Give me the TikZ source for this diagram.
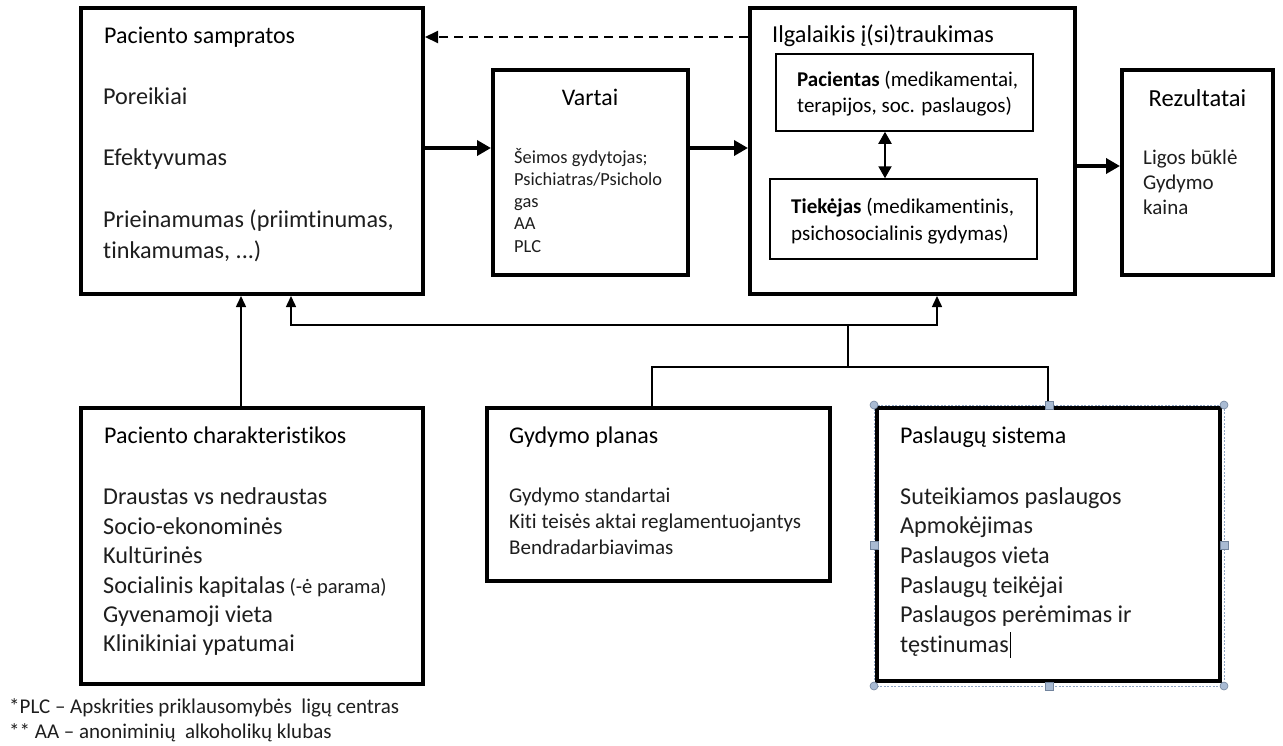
\documentclass[tikz,border=0pt]{standalone}
\usepackage{fontspec}
\setmainfont[Ligatures={NoCommon}]{Carlito}
\usetikzlibrary{arrows.meta}
\definecolor{txtc}{HTML}{1E1E1E}
\definecolor{selc}{HTML}{8FA5C4}
\definecolor{selfill}{HTML}{A9BBD3}
\newcommand{\fs}[1]{\fontsize{#1}{#1}\selectfont}
\tikzset{
  bigbox/.style={draw=black, line width=4pt, fill=white, inner sep=0pt},
  innerbox/.style={draw=black, line width=1.5pt, fill=white, inner sep=0pt},
  txt/.style={anchor=mid west, inner sep=0pt, text=txtc, yshift=-5pt},
  hd/.style={anchor=mid west, inner sep=0pt, text=black, yshift=-5pt},
  ctr/.style={anchor=mid, inner sep=0pt, text=black, yshift=-5pt},
  thickarrow/.style={line width=3.5pt, -{Triangle[length=14pt,width=15pt]}},
  thinline/.style={line width=1.5pt},
  thinarrow/.style={line width=1.5pt, -{Triangle[length=11pt,width=10pt]}},
  dasharrow/.style={line width=2pt, dash pattern=on 9pt off 6pt, -{Triangle[length=13pt,width=12pt]}},
  dblarrow/.style={line width=2pt, {Triangle[length=12pt,width=13pt]}-{Triangle[length=12pt,width=13pt]}},
  handlec/.style={circle, draw=selc!80!black, fill=selfill, line width=0.6pt, minimum size=8pt, inner sep=0pt},
  handles/.style={rectangle, draw=selc!80!black, fill=selfill, line width=0.6pt, minimum size=8pt, inner sep=0pt},
  big/.style={font=\fs{24.2}},
  hds/.style={font=\fs{24}},
  mids/.style={font=\fs{21}},
  sml/.style={font=\fs{18.4}},
}
\begin{document}
\begin{tikzpicture}[x=1pt,y=-1pt]
\useasboundingbox[fill=white] (0,0) rectangle (1283,745);

% main boxes
\node[bigbox, minimum width=342pt, minimum height=286pt] (samp) at (252,151) {};
\node[bigbox, minimum width=195pt, minimum height=205pt] (vart) at (590.5,172.5) {};
\node[bigbox, minimum width=325pt, minimum height=286pt] (ilg) at (912.5,151) {};
\node[bigbox, minimum width=151pt, minimum height=205pt] (rez) at (1197.5,172.5) {};
\node[bigbox, minimum width=342pt, minimum height=276pt] (char) at (252,546) {};
\node[bigbox, minimum width=343pt, minimum height=173pt] (gyd) at (658.5,494.5) {};

% selection frame around Paslaugu sistema
\draw[selc, line width=0.8pt, dash pattern=on 2pt off 1.5pt] (874,405) rectangle (1224,686);
\node[bigbox, minimum width=343pt, minimum height=273pt] (pas) at (1048.5,544.5) {};

% inner boxes
\node[innerbox, minimum width=257pt, minimum height=77pt] (pac) at (904.5,92.5) {};
\node[innerbox, minimum width=267pt, minimum height=80pt] (tiek) at (903.5,219) {};

% texts: Paciento sampratos
\node[hd, hds] (s0) at (104,36) {Paciento sampratos};
\node[txt, big] (s1) at (103,97) {Poreikiai};
\node[txt, big] (s2) at (103,158) {Efektyvumas};
\node[txt, big] (s3) at (103,220) {Prieinamumas (priimtinumas,};
\node[txt, big] (s4) at (103,251) {tinkamumas, ...)};

% Vartai
\node[ctr, font=\fs{23.8}] (v0) at (590,98) {Vartai};
\node[txt, sml] (v1) at (514,156) {Šeimos gydytojas;};
\node[txt, sml] (v2) at (514,178) {Psichiatras/Psicholo};
\node[txt, sml] (v3) at (514,200) {gas};
\node[txt, sml] (v4) at (514,222) {AA};
\node[txt, sml] (v5) at (514,245) {PLC};

% Ilgalaikis
\node[hd, font=\fs{24.3}] (i0) at (772,35) {Ilgalaikis į(si)traukimas};
\node[hd, mids] (p1) at (797,79) {\textbf{Pacientas} (medikamentai,};
\node[hd, mids] (p2) at (797,105) {terapijos, soc. paslaugos)};
\node[hd, mids] (k1) at (791,206) {\textbf{Tiekėjas} (medikamentinis,};
\node[hd, mids] (k2) at (791,233) {psichosocialinis gydymas)};

% Rezultatai
\node[ctr, font=\fs{24.5}] (r0) at (1197.5,99) {Rezultatai};
\node[txt, mids] (r1) at (1143,157) {Ligos būklė};
\node[txt, mids] (r2) at (1143,182) {Gydymo};
\node[txt, mids] (r3) at (1143,207) {kaina};

% Paciento charakteristikos
\node[hd, hds] (c0) at (104,436) {Paciento charakteristikos};
\node[txt, big] (c1) at (103,497) {Draustas vs nedraustas};
\node[txt, big] (c2) at (103,527) {Socio-ekonominės};
\node[txt, big] (c3) at (103,556) {Kultūrinės};
\node[txt, big] (c4) at (103,586) {Socialinis kapitalas\hspace{-1pt} {\fs{20.5}(-ė parama)}};
\node[txt, big] (c5) at (103,615) {Gyvenamoji vieta};
\node[txt, big] (c6) at (103,644) {Klinikiniai ypatumai};

% Gydymo planas
\node[hd, hds] (g0) at (509,436) {Gydymo planas};
\node[txt, mids] (g1) at (509,495) {Gydymo standartai};
\node[txt, mids] (g2) at (509,521) {Kiti teisės aktai reglamentuojantys};
\node[txt, mids] (g3) at (509,547) {Bendradarbiavimas};

% Paslaugu sistema
\node[hd, hds] (a0) at (900,436) {Paslaugų sistema};
\node[txt, big] (a1) at (900,497) {Suteikiamos paslaugos};
\node[txt, big] (a2) at (900,526) {Apmokėjimas};
\node[txt, big] (a3) at (900,556) {Paslaugos vieta};
\node[txt, big] (a4) at (900,586) {Paslaugų teikėjai};
\node[txt, big] (a5) at (900,615) {Paslaugos perėmimas ir};
\node[txt, big] (a6) at (900,645) {tęstinumas};
\draw[black, line width=1.2pt] ([xshift=1.5pt]a6.east |- 0,632) -- ([xshift=1.5pt]a6.east |- 0,658);

% footnotes
\node[txt, font=\fs{21}] (f1) at (9,706) {*PLC – Apskrities priklausomybės\ \ ligų centras};
\node[txt, font=\fs{21}] (f2) at (9,731) {** AA – anoniminių\ \ alkoholikų klubas};

% arrows
\draw[dasharrow] (ilg.west |- 0,37) -- (samp.east |- 0,37);
\draw[thickarrow] (samp.east |- 0,148) -- (vart.west |- 0,148);
\draw[thickarrow] (vart.east |- 0,148) -- (ilg.west |- 0,148);
\draw[thickarrow] (ilg.east |- 0,166) -- (rez.west |- 0,166);
\draw[dblarrow] (pac.south -| 885,0) -- (tiek.north -| 885,0);

\draw[thinarrow] (char.north -| 241,0) -- (samp.south -| 241,0);
\coordinate (j1) at (848,325);
\coordinate (j2) at (848,367);
\draw[thinline] (pas.north -| 1048,0) |- (j2) -| (gyd.north -| 652,0);
\draw[thinline] (j2) -- (j1);
\draw[thinarrow] (j1) -| (samp.south -| 291,0);
\draw[thinarrow] (j1) -| (ilg.south -| 937,0);

% selection handles
\node[handlec] (h1) at (874,405) {};
\node[handlec] (h2) at (1224,405) {};
\node[handlec] (h3) at (874,686) {};
\node[handlec] (h4) at (1224,686) {};
\node[handles] (h5) at (1049,405) {};
\node[handles] (h6) at (1049,686) {};
\node[handles] (h7) at (874,545) {};
\node[handles] (h8) at (1224,545) {};
\end{tikzpicture}
\end{document}
